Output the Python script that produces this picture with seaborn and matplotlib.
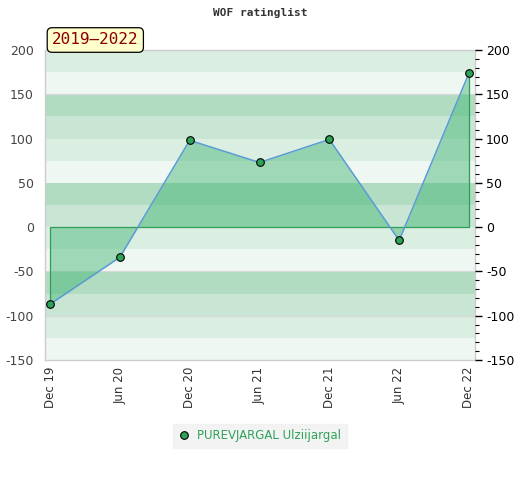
import numpy as np
import pandas as pd
import matplotlib
matplotlib.use("Agg")
import matplotlib.pyplot as plt
from matplotlib.ticker import MultipleLocator
import seaborn as sns

# data
periods = ["Dec 19", "Jun 20", "Dec 20", "Jun 21", "Dec 21", "Jun 22", "Dec 22"]
rating_change = [-87, -34, 98, 73, 99, -15, 174]
player = "PUREVJARGAL Ulziijargal"
title = "WOF ratinglist"
range_label = "2019\u20132022"

band_colors = ["#c8e6d3", "#b2dcc2", "#eff7f2", "#dbeee2"]

sns.set_theme(style="white")
plt.rcParams["font.family"] = ["DejaVu Sans"]
plt.rcParams["axes.unicode_minus"] = False

df = pd.DataFrame({"pos": np.arange(len(periods)), "change": rating_change})

fig = plt.figure(figsize=(5.2, 4.8), dpi=100)
ax = fig.add_axes([45 / 520, 120 / 480, 430 / 520, 310 / 480])

# horizontal bands every 25 points
for lo in range(-150, 200, 25):
    ax.axhspan(lo, lo + 25, color=band_colors[(lo // 25) % 4], lw=0, zorder=0)
for y in [150, -50, -100]:
    ax.axhline(y, color="#d8d8d8", lw=0.8, zorder=0.5)

ax.fill_between(df["pos"], df["change"], 0, interpolate=True,
                color="#3cb371", alpha=0.45, lw=0, zorder=1)
ax.plot([0, 0, 6, 6], [rating_change[0], 0, 0, rating_change[-1]],
        color="#2e9e55", lw=0.9, zorder=1.5)

sns.lineplot(data=df, x="pos", y="change", ax=ax, color="#5b9bd5", lw=1.1,
             marker="o", markersize=5.5, markerfacecolor="#2ea358",
             markeredgecolor="black", markeredgewidth=0.8, zorder=3,
             label=player)

ax.set_xlim(-0.072, 6.086)
ax.set_ylim(-150, 200)
ax.set_xticks(df["pos"])
ax.set_xticklabels(periods, rotation=90, fontsize=8.5, color="#333333")
ax.yaxis.set_major_locator(MultipleLocator(50))
ax.tick_params(axis="y", length=0, labelsize=9, labelcolor="#444444", pad=8)
ax.tick_params(axis="x", length=0, pad=5)
ax.set_xlabel("")
ax.set_ylabel("")
for s in ax.spines.values():
    s.set_color("#cccccc")
    s.set_linewidth(1)

ax2 = ax.twinx()
ax2.set_ylim(-150, 200)
ax2.yaxis.set_major_locator(MultipleLocator(50))
ax2.yaxis.set_minor_locator(MultipleLocator(10))
ax2.tick_params(axis="y", which="major", length=5, width=1, color="black",
                labelsize=9, labelcolor="black", pad=3, right=True)
ax2.tick_params(axis="y", which="minor", length=3, width=0.8, color="black", right=True)
for s in ax2.spines.values():
    s.set_visible(False)

fig.text(0.5, 1 - 13 / 480, title, ha="center", va="center",
         family="DejaVu Sans Mono", fontweight="bold", fontsize=8, color="#333333")

fig.text(52 / 520, 1 - 40 / 480, range_label, ha="left", va="center",
         family="DejaVu Sans Mono", fontsize=11.5, color="#8b0000",
         bbox=dict(boxstyle="round,pad=0.3,rounding_size=0.3",
                   facecolor="#ffffcc", edgecolor="black", lw=0.9))

ax.legend(loc="center", bbox_to_anchor=(0.5, (360 - 436) / 310),
          frameon=True, facecolor="#f0f0f0", edgecolor="#f0f0f0", fontsize=8.5,
          labelcolor="#2ea358", handlelength=1.0, handletextpad=0.6,
          borderpad=0.45, fancybox=False)
leg = ax.get_legend()
for h in leg.legend_handles:
    h.set_linestyle("none")

fig.savefig("out.png", dpi=100)
